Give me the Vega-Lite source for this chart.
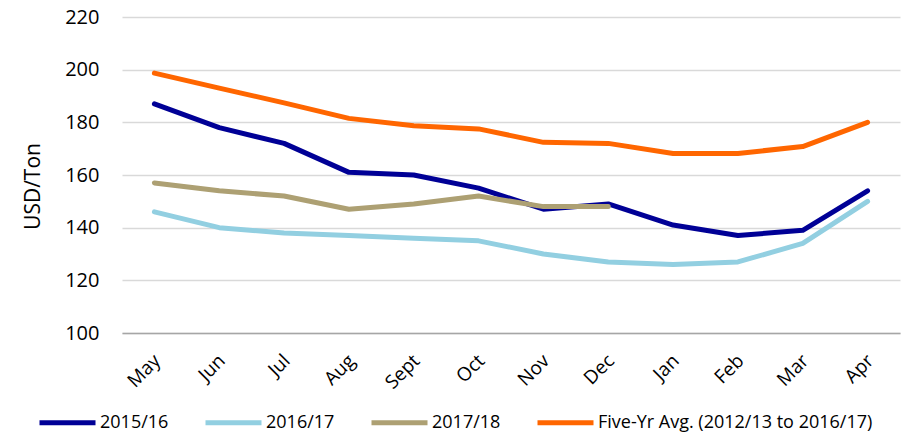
{
  "$schema": "https://vega.github.io/schema/vega-lite/v6.json",
  "width": 778,
  "height": 316,
  "autosize": {"type": "none"},
  "padding": {"left": 122, "top": 17, "right": 24, "bottom": 101},
  "background": "white",
  "config": {
    "view": {"stroke": null},
    "font": "Open Sans"
  },
  "data": {
    "values": [
      {"month": "May", "series": "2015/16", "value": 187},
      {"month": "Jun", "series": "2015/16", "value": 178},
      {"month": "Jul", "series": "2015/16", "value": 172},
      {"month": "Aug", "series": "2015/16", "value": 161},
      {"month": "Sept", "series": "2015/16", "value": 160},
      {"month": "Oct", "series": "2015/16", "value": 155},
      {"month": "Nov", "series": "2015/16", "value": 147},
      {"month": "Dec", "series": "2015/16", "value": 149},
      {"month": "Jan", "series": "2015/16", "value": 141},
      {"month": "Feb", "series": "2015/16", "value": 137},
      {"month": "Mar", "series": "2015/16", "value": 139},
      {"month": "Apr", "series": "2015/16", "value": 154},
      {"month": "May", "series": "2016/17", "value": 146},
      {"month": "Jun", "series": "2016/17", "value": 140},
      {"month": "Jul", "series": "2016/17", "value": 138},
      {"month": "Aug", "series": "2016/17", "value": 137},
      {"month": "Sept", "series": "2016/17", "value": 136},
      {"month": "Oct", "series": "2016/17", "value": 135},
      {"month": "Nov", "series": "2016/17", "value": 130},
      {"month": "Dec", "series": "2016/17", "value": 127},
      {"month": "Jan", "series": "2016/17", "value": 126},
      {"month": "Feb", "series": "2016/17", "value": 127},
      {"month": "Mar", "series": "2016/17", "value": 134},
      {"month": "Apr", "series": "2016/17", "value": 150},
      {"month": "May", "series": "2017/18", "value": 157},
      {"month": "Jun", "series": "2017/18", "value": 154},
      {"month": "Jul", "series": "2017/18", "value": 152},
      {"month": "Aug", "series": "2017/18", "value": 147},
      {"month": "Sept", "series": "2017/18", "value": 149},
      {"month": "Oct", "series": "2017/18", "value": 152},
      {"month": "Nov", "series": "2017/18", "value": 148},
      {"month": "Dec", "series": "2017/18", "value": 148},
      {"month": "May", "series": "Five-Yr Avg. (2012/13 to 2016/17)", "value": 198.7},
      {"month": "Jun", "series": "Five-Yr Avg. (2012/13 to 2016/17)", "value": 193},
      {"month": "Jul", "series": "Five-Yr Avg. (2012/13 to 2016/17)", "value": 187.4},
      {"month": "Aug", "series": "Five-Yr Avg. (2012/13 to 2016/17)", "value": 181.5},
      {"month": "Sept", "series": "Five-Yr Avg. (2012/13 to 2016/17)", "value": 178.7},
      {"month": "Oct", "series": "Five-Yr Avg. (2012/13 to 2016/17)", "value": 177.5},
      {"month": "Nov", "series": "Five-Yr Avg. (2012/13 to 2016/17)", "value": 172.4},
      {"month": "Dec", "series": "Five-Yr Avg. (2012/13 to 2016/17)", "value": 172},
      {"month": "Jan", "series": "Five-Yr Avg. (2012/13 to 2016/17)", "value": 168.2},
      {"month": "Feb", "series": "Five-Yr Avg. (2012/13 to 2016/17)", "value": 168.2},
      {"month": "Mar", "series": "Five-Yr Avg. (2012/13 to 2016/17)", "value": 170.8},
      {"month": "Apr", "series": "Five-Yr Avg. (2012/13 to 2016/17)", "value": 180}
    ]
  },
  "mark": {"type": "line", "strokeWidth": 5, "strokeCap": "round", "strokeJoin": "round"},
  "encoding": {
    "x": {
      "field": "month",
      "type": "ordinal",
      "sort": ["May", "Jun", "Jul", "Aug", "Sept", "Oct", "Nov", "Dec", "Jan", "Feb", "Mar", "Apr"],
      "scale": {"type": "point", "padding": 0.5},
      "axis": {
        "title": null,
        "labelAngle": -45,
        "labelFontSize": 19,
        "labelColor": "#000000",
        "labelPadding": 18,
        "labelOffset": -4,
        "ticks": false,
        "tickSize": 0,
        "grid": false,
        "domain": true,
        "domainColor": "#A6A6A6",
        "domainWidth": 1.5
      }
    },
    "y": {
      "field": "value",
      "type": "quantitative",
      "scale": {"domain": [100, 220], "nice": false, "zero": false},
      "axis": {
        "title": "USD/Ton",
        "titleFontSize": 21,
        "titleFontWeight": "normal",
        "titleColor": "#000000",
        "titleX": -89,
        "titleY": 169,
        "titleBaseline": "middle",
        "titleAlign": "center",
        "values": [100, 120, 140, 160, 180, 200, 220],
        "labelFontSize": 20,
        "labelColor": "#000000",
        "labelPadding": 23,
        "ticks": false,
        "tickSize": 0,
        "domain": false,
        "grid": true,
        "gridColor": "#D9D9D9",
        "gridWidth": 1.3
      }
    },
    "color": {
      "field": "series",
      "type": "nominal",
      "scale": {
        "domain": ["2015/16", "2016/17", "2017/18", "Five-Yr Avg. (2012/13 to 2016/17)"],
        "range": ["#000096", "#92CFE1", "#ADA073", "#FF6600"]
      },
      "legend": {
        "title": null,
        "orient": "none",
        "direction": "horizontal",
        "legendX": -85,
        "legendY": 375,
        "symbolType": "stroke",
        "symbolSize": 3136,
        "symbolStrokeWidth": 5,
        "labelFontSize": 18,
        "labelColor": "#000000",
        "labelOffset": 2,
        "columnPadding": 26,
        "labelLimit": 500
      }
    }
  }
}
